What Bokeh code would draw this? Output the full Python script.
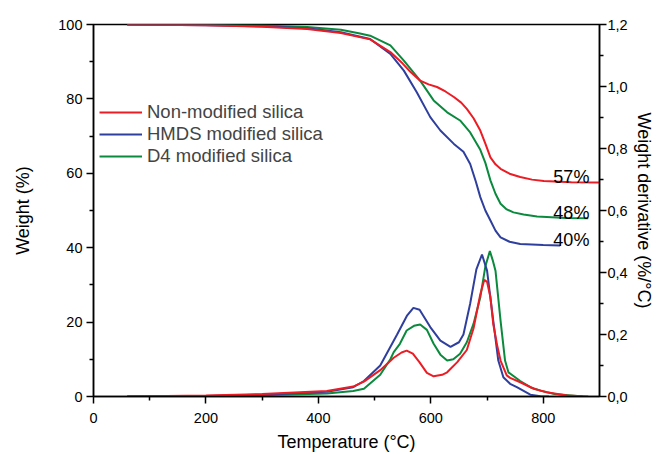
from bokeh.plotting import figure
from bokeh.models import (LinearAxis, Range1d, FixedTicker, CustomJSTickFormatter,
                          Legend, LegendItem)
from bokeh.core.properties import value
from bokeh.embed import file_html
from bokeh.resources import INLINE

FONT = "Liberation Sans"

# ---------------- data ----------------
series_names = ["Non-modified silica", "HMDS modified silica", "D4 modified silica"]
series_colors = ["#ec1c24", "#2e3f9e", "#0b8a3e"]
residue_labels = ["57%", "48%", "40%"]

# TG curves (weight %)
tg_red_t = [60, 200, 300, 380, 440, 492, 528, 550, 564, 581, 596, 611, 626, 641, 654, 664, 676, 688, 697, 706, 715, 724, 740, 759, 780, 801, 850, 900]
tg_red_w = [100, 99.8, 99.4, 98.8, 97.7, 96.0, 92.6, 89.5, 87.2, 84.9, 83.9, 83.2, 82.0, 80.5, 79.0, 77.3, 74.8, 71.5, 68.0, 64.3, 62.4, 61.2, 59.9, 59.0, 58.3, 57.9, 57.6, 57.5]

tg_blue_t = [60, 200, 300, 380, 440, 492, 528, 552, 575, 599, 617, 641, 658, 670, 680, 688, 697, 706, 715, 724, 740, 759, 800, 830]
tg_blue_w = [100, 99.8, 99.5, 99.0, 97.9, 96.1, 92.1, 87.6, 81.8, 75.1, 71.5, 67.9, 65.8, 62.5, 57.8, 53.6, 50.0, 47.3, 44.6, 42.8, 41.6, 41.0, 40.7, 40.6]

tg_green_t = [60, 200, 300, 380, 440, 474, 492, 528, 552, 581, 605, 629, 652, 670, 688, 697, 706, 715, 724, 735, 747, 765, 789, 840, 880]
tg_green_w = [100, 99.9, 99.7, 99.3, 98.6, 97.6, 97.0, 94.4, 90.3, 84.9, 79.6, 76.4, 74.2, 71.0, 66.3, 62.8, 58.1, 54.5, 51.8, 50.3, 49.5, 48.9, 48.4, 48.0, 47.9]

# DTG curves (weight derivative %/°C)
dtg_red_t = [60, 200, 300, 415, 462, 481, 510, 534, 548, 557, 568, 580, 593, 605, 620, 629, 647, 664, 676, 688, 695, 700, 706, 711, 718, 724, 735, 741, 759, 783, 806, 842, 870]
dtg_red_d = [0.0, 0.003, 0.008, 0.018, 0.032, 0.048, 0.085, 0.125, 0.142, 0.148, 0.138, 0.11, 0.076, 0.065, 0.07, 0.078, 0.111, 0.15, 0.22, 0.33, 0.376, 0.37, 0.32, 0.234, 0.165, 0.116, 0.068, 0.06, 0.046, 0.025, 0.014, 0.003, 0.001]

dtg_blue_t = [60, 200, 300, 415, 462, 481, 510, 540, 558, 569, 580, 599, 617, 635, 650, 658, 670, 681, 691, 700, 711, 720, 729, 741, 753, 777, 795, 810]
dtg_blue_d = [0.0, 0.002, 0.006, 0.015, 0.03, 0.05, 0.1, 0.2, 0.262, 0.286, 0.28, 0.224, 0.18, 0.16, 0.175, 0.2, 0.3, 0.41, 0.458, 0.406, 0.245, 0.116, 0.062, 0.041, 0.03, 0.006, 0.001, 0.0]

dtg_green_t = [60, 200, 300, 415, 462, 481, 510, 528, 534, 545, 557, 570, 581, 593, 605, 617, 629, 640, 652, 664, 676, 688, 697, 705, 710, 715, 724, 732, 738, 759, 777, 795, 820, 860, 880]
dtg_green_d = [0.0, 0.001, 0.004, 0.01, 0.018, 0.025, 0.07, 0.12, 0.143, 0.17, 0.213, 0.228, 0.232, 0.215, 0.17, 0.135, 0.116, 0.12, 0.138, 0.175, 0.235, 0.32, 0.42, 0.469, 0.44, 0.406, 0.245, 0.116, 0.078, 0.05, 0.03, 0.019, 0.008, 0.002, 0.0]

x_ticks = [0, 200, 400, 600, 800]
x_minor = [100, 300, 500, 700]
y_ticks = [0, 20, 40, 60, 80, 100]
y_minor = [10, 30, 50, 70, 90]
y2_ticks = [0.0, 0.2, 0.4, 0.6, 0.8, 1.0, 1.2]
y2_minor = [0.1, 0.3, 0.5, 0.7, 0.9, 1.1]

# ---------------- figure ----------------
p = figure(width=656, height=454, output_backend="svg", toolbar_location=None,
           x_range=Range1d(0, 900), y_range=Range1d(0, 100),
           min_border_left=93, min_border_right=57, min_border_top=24, min_border_bottom=58)
p.extra_y_ranges = {"dtg": Range1d(0, 1.2)}
p.xgrid.visible = False
p.ygrid.visible = False
p.outline_line_color = "black"
p.outline_line_width = 1.5
p.background_fill_color = "white"
p.border_fill_color = "white"

def style_axis(ax, label, standoff):
    ax.axis_label = label
    ax.axis_label_text_font = FONT
    ax.axis_label_text_font_size = "18px"
    ax.axis_label_text_font_style = "normal"
    ax.axis_label_text_color = "black"
    ax.axis_label_standoff = standoff
    ax.major_label_text_font = FONT
    ax.major_label_text_font_size = "14.5px"
    ax.major_label_text_color = "black"
    ax.axis_line_color = "black"
    ax.axis_line_width = 1.5
    ax.major_tick_line_color = "black"
    ax.major_tick_line_width = 1.5
    ax.minor_tick_line_color = "black"
    ax.minor_tick_line_width = 1.5
    ax.major_tick_out = 7
    ax.major_tick_in = 0
    ax.minor_tick_out = 4
    ax.minor_tick_in = 0

xa = p.xaxis[0]
xa.ticker = FixedTicker(ticks=x_ticks, minor_ticks=x_minor)
style_axis(xa, "Temperature (°C)", 6)
xa.major_label_standoff = 9

ya = p.yaxis[0]
ya.ticker = FixedTicker(ticks=y_ticks, minor_ticks=y_minor)
style_axis(ya, "Weight (%)", 22)
ya.major_label_standoff = 4

ra = LinearAxis(y_range_name="dtg")
ra.ticker = FixedTicker(ticks=y2_ticks, minor_ticks=y2_minor)
ra.formatter = CustomJSTickFormatter(code="return tick.toFixed(1).replace('.', ',');")
style_axis(ra, "Weight derivative (%/°C)", 3)
ra.major_label_standoff = 1
p.add_layout(ra, "right")

tg_sets = [(tg_red_t, tg_red_w), (tg_blue_t, tg_blue_w), (tg_green_t, tg_green_w)]
dtg_sets = [(dtg_red_t, dtg_red_d), (dtg_blue_t, dtg_blue_d), (dtg_green_t, dtg_green_d)]

# draw order: green below, blue, red on top (as in reference)
order = [2, 1, 0]
tg_renderers = {}
for i in order:
    t, d = dtg_sets[i]
    p.line(t, d, y_range_name="dtg", line_color=series_colors[i], line_width=2)
for i in order:
    t, w = tg_sets[i]
    tg_renderers[i] = p.line(t, w, line_color=series_colors[i], line_width=2)

legend = Legend(items=[LegendItem(label=series_names[i], renderers=[tg_renderers[i]]) for i in range(3)],
                location=(6, 229), padding=0, margin=0, spacing=0,
                glyph_width=43, glyph_height=22, label_height=22, label_standoff=5,
                label_text_font=FONT, label_text_font_size="18.5px",
                border_line_color=None, background_fill_alpha=0)
p.add_layout(legend)

# residue labels, right aligned near the end of each TG curve
label_order = [0, 2, 1]  # red 57%, green 48%, blue 40%
lx = [882] * 3
ly = [tg_sets[i][1][-1] + 1.4 for i in label_order]
p.text(lx, ly, text=residue_labels, text_align="right", text_baseline="alphabetic",
       text_font=value(FONT), text_font_size="18px", text_color="black")

open("out.html", "w").write(file_html(p, INLINE))
